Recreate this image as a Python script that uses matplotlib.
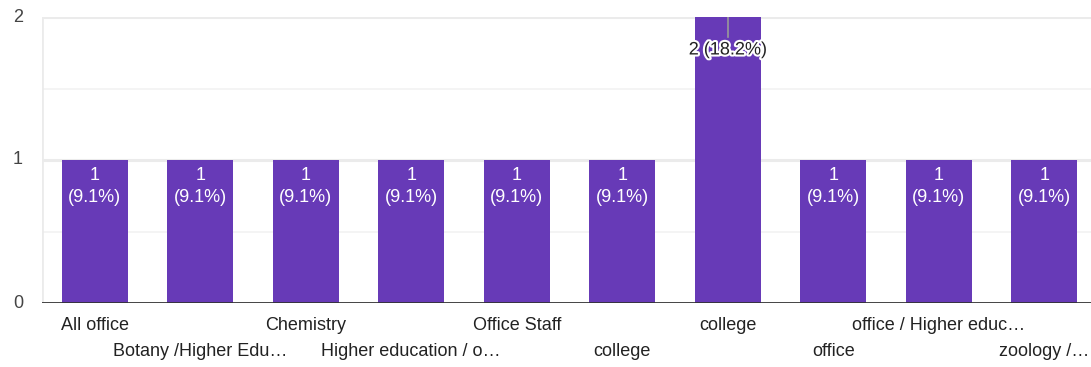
import matplotlib
matplotlib.use("Agg")
import matplotlib.pyplot as plt
import matplotlib.patheffects as pe

categories = ["All office", "Botany /Higher Edu\u2026", "Chemistry", "Higher education / o\u2026",
              "Office Staff", "college", "college", "office", "office / Higher educ\u2026", "zoology /\u2026"]
counts = [1, 1, 1, 1, 1, 1, 2, 1, 1, 1]
percents = [9.1, 9.1, 9.1, 9.1, 9.1, 9.1, 18.2, 9.1, 9.1, 9.1]
yticks = [0, 1, 2]

plt.rcParams['font.family'] = ['Liberation Sans', 'DejaVu Sans']

W, H = 1091, 367
fig = plt.figure(figsize=(W / 100, H / 100), dpi=100)
left, right, top, bottom = 42, 1097, 17, 303
ax = fig.add_axes([left / W, 1 - bottom / H, (right - left) / W, (bottom - top) / H])
ppu = (bottom - top) / 2  # pixels per unit

x = list(range(len(categories)))
ax.set_xlim(-0.5, len(categories) - 0.5)
ax.set_ylim(0, 2)

for g in [0.5, 1.5]:
    ax.axhline(g, color="#f4f4f4", lw=1.4, zorder=0)
for g in [1, 2]:
    ax.axhline(g, color="#ebebeb", lw=2.2, zorder=0)
ax.axvline(-0.5, color="#ebebeb", lw=2, zorder=0)

ax.bar(x, counts, width=0.63, color="#673AB7", zorder=2)
ax.axhline(0, color="#333333", lw=2, zorder=3)

for s in ax.spines.values():
    s.set_visible(False)
ax.set_xticks([])
ax.set_yticks([])

fs = 13
for v in yticks:
    fig.text(18 / W, 1 - (bottom - v * ppu) / H, str(v), ha="center", va="center",
             fontsize=fs, color="#444444")

for i, (c, p) in enumerate(zip(counts, percents)):
    if c == max(counts):
        ax.plot([i, i], [2, 2 - 20 / ppu], color="#999999", lw=1.2, zorder=4)
        ax.text(i, 2 - 33 / ppu, f"{c} ({p}%)", ha="center", va="center", fontsize=fs, color="#222222",
                zorder=5, path_effects=[pe.withStroke(linewidth=3, foreground="white")])
    else:
        ax.text(i, c - 15 / ppu, f"{c}", ha="center", va="center", fontsize=fs, color="white", zorder=5)
        ax.text(i, c - 38 / ppu, f"({p}%)", ha="center", va="center", fontsize=fs, color="white", zorder=5)

for i, lab in enumerate(categories):
    ypix = 325 if i % 2 == 0 else 351
    fig.text((left + (i + 0.5) * (right - left) / len(categories)) / W, 1 - ypix / H, lab,
             ha="center", va="center", fontsize=fs, color="#222222")

fig.savefig("out.png", dpi=100)
